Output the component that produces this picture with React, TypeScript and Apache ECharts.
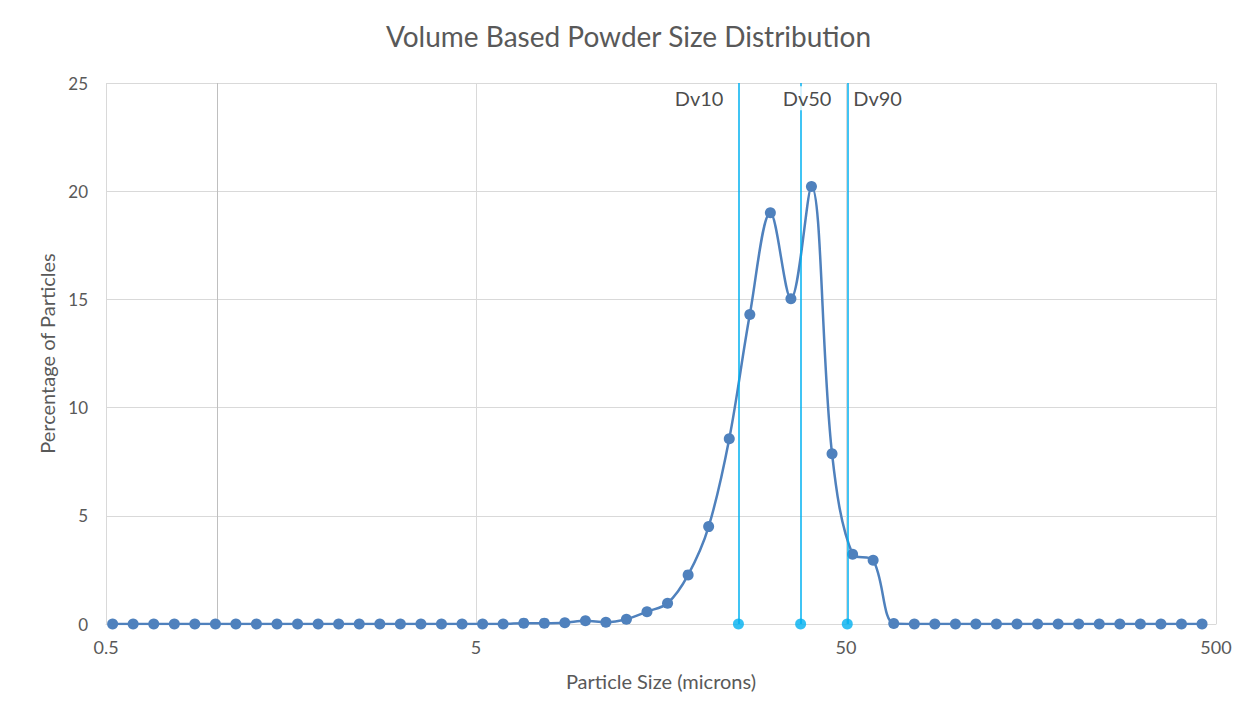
import React, { useEffect, useRef } from "react";
import * as echarts from "echarts";

// Particle size bin centres (microns), 18 bins per decade
const particleSizes = [
  0.521, 0.592, 0.673, 0.765, 0.869, 0.988, 1.122, 1.275, 1.449, 1.647,
  1.872, 2.127, 2.418, 2.748, 3.123, 3.549, 4.033, 4.584, 5.21, 5.92,
  6.73, 7.65, 8.69, 9.88, 11.22, 12.75, 14.49, 16.47, 18.72, 21.27,
  24.18, 27.48, 31.23, 35.49, 40.33, 45.84, 52.1, 59.2, 67.3, 76.5,
  86.9, 98.8, 112.2, 127.5, 144.9, 164.7, 187.2, 212.7, 241.8, 274.8,
  312.3, 354.9, 403.3, 458.4,
];

// Volume percentage in each bin
const volumePercent = [
  0, 0, 0, 0, 0, 0, 0, 0, 0, 0,
  0, 0, 0, 0, 0, 0, 0, 0, 0, 0,
  0.04, 0.04, 0.06, 0.15, 0.08, 0.22, 0.57, 0.96, 2.27, 4.5,
  8.56, 14.3, 19.0, 15.03, 20.22, 7.87, 3.22, 2.95, 0.02, 0,
  0, 0, 0, 0, 0, 0, 0, 0, 0, 0,
  0, 0, 0, 0,
];

// Percentile diameters (microns)
const percentileNames = ["Dv10", "Dv50", "Dv90"];
const percentileSizes = [25.6, 37.7, 50.4];

const xTickValues = [0.5, 5, 50, 500];
const yMin = 0;
const yMax = 25;
const yStep = 5;
const axisCrossAt = 1;

const FONT = "Lato";
const TEXT = "#595959";
const GRID = "#d9d9d9";
const BLUE = "#4f81bd";
const CYAN = "#00b0f0";

export default function App() {
  const ref = useRef<HTMLDivElement>(null);

  useEffect(() => {
    document.body.style.margin = "0";
    const chart = echarts.init(ref.current!, null, { renderer: "svg" });

    const labelSettings = [
      { position: "left", distance: 15, offset: [0, 0], backgroundColor: "transparent", padding: 0 },
      { position: "inside", distance: 0, offset: [2, 0], backgroundColor: "#ffffff", padding: [2, 0, 2, 9] },
      { position: "right", distance: 6, offset: [0, 0], backgroundColor: "transparent", padding: 0 },
    ];

    chart.setOption({
      animation: false,
      backgroundColor: "#ffffff",
      title: {
        text: "Volume Based Powder Size Distribution",
        left: "center",
        top: 17,
        textStyle: { fontFamily: FONT, fontSize: 28, fontWeight: "normal", color: TEXT },
      },
      grid: { left: 106, right: 41, top: 83, bottom: 86 },
      xAxis: {
        type: "log",
        logBase: 10,
        min: xTickValues[0],
        max: xTickValues[xTickValues.length - 1],
        name: "Particle Size (microns)",
        nameLocation: "middle",
        nameGap: 47,
        nameTextStyle: { fontFamily: FONT, fontSize: 20, color: TEXT },
        axisLine: { show: true, lineStyle: { color: GRID, width: 1 } },
        axisTick: { show: false, customValues: xTickValues },
        axisLabel: {
          customValues: xTickValues,
          formatter: (v: number) => String(v),
          fontFamily: FONT,
          fontSize: 18,
          color: TEXT,
          margin: 14,
        },
        splitLine: { show: true, lineStyle: { color: GRID, width: 1 } },
      },
      yAxis: {
        type: "value",
        min: yMin,
        max: yMax,
        interval: yStep,
        name: "Percentage of Particles",
        nameLocation: "middle",
        nameGap: 47,
        nameTextStyle: { fontFamily: FONT, fontSize: 20, color: TEXT },
        axisLine: { show: false },
        axisTick: { show: false },
        axisLabel: { fontFamily: FONT, fontSize: 17, color: TEXT, margin: 18 },
        splitLine: { show: true, lineStyle: { color: GRID, width: 1 } },
      },
      series: [
        {
          type: "line",
          name: "Volume %",
          data: particleSizes.map((s, i) => [s, volumePercent[i]]),
          smooth: 0.35,
          symbol: "circle",
          symbolSize: 11,
          lineStyle: { color: BLUE, width: 2.5 },
          itemStyle: { color: BLUE },
          z: 3,
          markLine: {
            silent: true,
            symbol: "none",
            label: { show: false },
            lineStyle: { color: "#bfbfbf", width: 1, type: "solid" },
            data: [{ xAxis: axisCrossAt }],
            z: 1,
          },
        },
        {
          type: "scatter",
          name: "Percentiles",
          data: percentileSizes.map((s) => [s, 0]),
          symbol: "circle",
          symbolSize: 11,
          itemStyle: { color: CYAN },
          z: 4,
          markLine: {
            silent: true,
            symbol: "none",
            label: { show: false },
            lineStyle: { color: CYAN, width: 1.5, type: "solid" },
            data: percentileSizes.map((s) => [
              { coord: [s, yMin] },
              { coord: [s, yMax] },
            ]),
          },
        },
        {
          type: "scatter",
          name: "Percentile labels",
          symbolSize: 0,
          z: 10,
          data: percentileSizes.map((s, i) => ({
            value: [s, 24.3],
            label: {
              show: true,
              formatter: percentileNames[i],
              position: labelSettings[i].position,
              distance: labelSettings[i].distance,
              offset: labelSettings[i].offset,
              backgroundColor: labelSettings[i].backgroundColor,
              padding: labelSettings[i].padding,
              fontFamily: FONT,
              fontSize: 20,
              color: "#1a1a1a",
            },
          })),
        },
      ],
    });

    return () => chart.dispose();
  }, []);

  return (
    <div
      ref={ref}
      style={{ position: "absolute", left: 0, top: 0, width: 1257, height: 710 }}
    />
  );
}
